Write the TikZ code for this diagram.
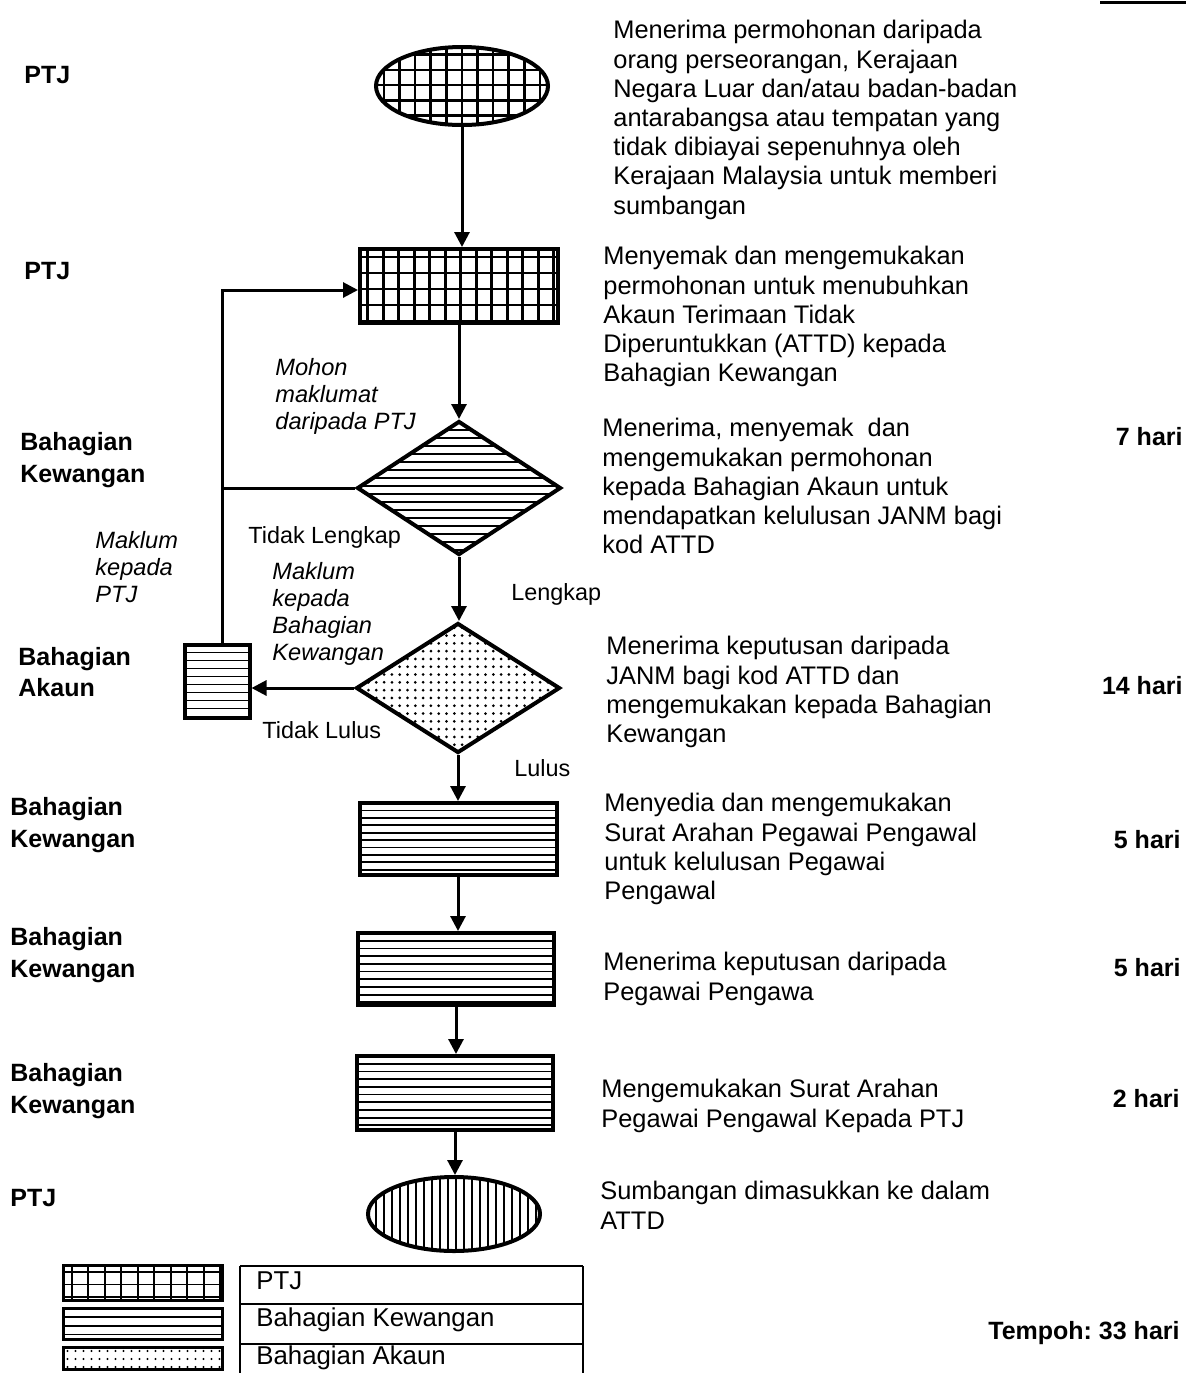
\documentclass[tikz,border=0pt]{standalone}
\usepackage{fontspec}
\setmainfont{Liberation Sans}
\usetikzlibrary{shapes.geometric,arrows.meta}
\frenchspacing

\newcommand\hpat[2]{\foreach \k in {1,...,45}{\draw[line width=#2] ([yshift=-\k*#1]path picture bounding box.north west) -- ([yshift=-\k*#1]path picture bounding box.north east);}}
\newcommand\vpat[2]{\foreach \k in {1,...,45}{\draw[line width=#2] ([xshift=\k*#1]path picture bounding box.north west) -- ([xshift=\k*#1]path picture bounding box.south west);}}
\newcommand\gridpat[3]{\foreach \k in {1,...,30}{\draw[line width=#3] ([xshift=\k*#1-0.5*#1]path picture bounding box.north west) -- ([xshift=\k*#1-0.5*#1]path picture bounding box.south west);\draw[line width=#3] ([yshift=-\k*#2+0.5*#2]path picture bounding box.north west) -- ([yshift=-\k*#2+0.5*#2]path picture bounding box.north east);}}
\newcommand\dotpat[2]{\foreach \i in {1,...,32}{\foreach \j in {1,...,22}{\fill ([xshift=\i*#1-0.5*#1,yshift=-\j*#1+0.5*#1]path picture bounding box.north west) circle[radius=#2];}}}

\begin{document}
\begin{tikzpicture}[x=0.5pt,y=-0.5pt,
  box/.style={draw,line width=2pt,inner sep=0pt,rectangle},
  ell/.style={draw,line width=2pt,inner sep=0pt,ellipse},
  dia/.style={draw,line width=2pt,inner sep=0pt,diamond},
  flow/.style={line width=1.5pt,-{Triangle[length=7.5pt,width=7.5pt]}},
  conn/.style={line width=1.5pt},
  rtext/.style={anchor=north west,align=left,inner sep=0pt,font=\fontsize{12.7}{14.6}\selectfont},
  ltext/.style={anchor=west,align=left,inner sep=0pt,font=\bfseries\fontsize{12.5}{15.8}\selectfont},
  itext/.style={anchor=north west,align=left,inner sep=0pt,font=\itshape\fontsize{11.8}{13.5}\selectfont},
  ntext/.style={anchor=west,inner sep=0pt,font=\fontsize{11.7}{14}\selectfont},
  legtext/.style={anchor=west,inner sep=0pt,font=\fontsize{12.9}{15}\selectfont},
  days/.style={anchor=east,inner sep=0pt,font=\bfseries\fontsize{12.5}{15}\selectfont},
  tline/.style={line width=0.8pt},
]
\useasboundingbox (0,0) rectangle (1186,1373);

% top-right rule
\draw[line width=1.5pt] (1100,2) -- (1186,2);

% flow shapes
\node[ell, minimum width=86pt, minimum height=39pt, path picture={\gridpat{7.8pt}{7.6pt}{1.3pt}}] (e1) at (462,86) {};
\node[box, minimum width=99pt, minimum height=37pt, path picture={\gridpat{7.75pt}{8pt}{1.3pt}}] (r1) at (459,286) {};
\node[dia, minimum width=102pt, minimum height=67pt, path picture={\hpat{4pt}{0.95pt}}] (d1) at (459,488) {};
\node[dia, minimum width=102pt, minimum height=65pt, path picture={\dotpat{3.9pt}{0.75pt}}] (d2) at (458,688) {};
\node[box, minimum width=32.5pt, minimum height=36.5pt, path picture={\hpat{4pt}{0.9pt}}] (sr) at (217,681) {};
\node[box, minimum width=98.5pt, minimum height=36pt, path picture={\hpat{3.7pt}{0.9pt}}] (r2) at (458,839) {};
\node[box, minimum width=98pt, minimum height=36pt, path picture={\hpat{3.85pt}{0.9pt}}] (r3) at (456,969) {};
\node[box, minimum width=98pt, minimum height=37pt, path picture={\hpat{3.85pt}{0.9pt}}] (r4) at (455,1093) {};
\node[ell, minimum width=86pt, minimum height=37pt, path picture={\vpat{4pt}{1.1pt}}] (e2) at (454,1214) {};

% connectors
\draw[flow] (e1.south) -- (e1.south |- r1.north);
\draw[flow] (r1.south) -- (r1.south |- d1.north);
\draw[flow] (d1.south) -- (d1.south |- d2.north);
\draw[flow] (d2.south) -- (d2.south |- r2.north);
\draw[flow] (r2.south) -- (r2.south |- r3.north);
\draw[flow] (r3.south) -- (r3.south |- r4.north);
\draw[flow] (r4.south) -- (r4.south |- e2.north);
\coordinate (jx) at (222,290);
\draw[flow] (sr.north -| jx) -- (jx) -- (jx -| r1.west);
\draw[conn] (d1.west) -- (d1.west -| jx);
\draw[flow] (d2.west) -- (d2.west -| sr.east);

% left role labels
\node[ltext] (L1) at (24,75) {PTJ};
\node[ltext] (L2) at (24,271) {PTJ};
\node[ltext] (L3) at (20,460) {Bahagian\\Kewangan};
\node[ltext] (L4) at (18,672) {Bahagian\\Akaun};
\node[ltext] (L5) at (10,825) {Bahagian\\Kewangan};
\node[ltext] (L6) at (10,955) {Bahagian\\Kewangan};
\node[ltext] (L7) at (10,1091) {Bahagian\\Kewangan};
\node[ltext] (L8) at (10,1198) {PTJ};

% connector labels
\node[itext] (m1) at (275,358) {Mohon\\maklumat\\daripada PTJ};
\node[ntext] (m2) at (248,537) {Tidak Lengkap};
\node[ntext] (m3) at (511,594) {Lengkap};
\node[itext] (m4) at (272,562) {Maklum\\kepada\\Bahagian\\Kewangan};
\node[itext] (m5) at (95,531) {Maklum\\kepada\\PTJ};
\node[ntext] (m6) at (262,730) {Tidak Lulus};
\node[ntext] (m7) at (514,768) {Lulus};

% right descriptions
\node[rtext] (t1) at (613,20) {Menerima permohonan daripada\\orang perseorangan, Kerajaan\\Negara Luar dan/atau badan-badan\\antarabangsa atau tempatan yang\\tidak dibiayai sepenuhnya oleh\\Kerajaan Malaysia untuk memberi\\sumbangan};
\node[rtext] (t2) at (603,246) {Menyemak dan mengemukakan\\permohonan untuk menubuhkan\\Akaun Terimaan Tidak\\Diperuntukkan (ATTD) kepada\\Bahagian Kewangan};
\node[rtext] (t3) at (602,418) {Menerima, menyemak~ dan\\mengemukakan permohonan\\kepada Bahagian Akaun untuk\\mendapatkan kelulusan JANM bagi\\kod ATTD};
\node[rtext] (t4) at (606,636) {Menerima keputusan daripada\\JANM bagi kod ATTD dan\\mengemukakan kepada Bahagian\\Kewangan};
\node[rtext] (t5) at (604,793) {Menyedia dan mengemukakan\\Surat Arahan Pegawai Pengawal\\untuk kelulusan Pegawai\\Pengawal};
\node[rtext] (t6) at (603,952) {Menerima keputusan daripada\\Pegawai Pengawa};
\node[rtext] (t7) at (601,1079) {Mengemukakan Surat Arahan\\Pegawai Pengawal Kepada PTJ};
\node[rtext] (t8) at (600,1181) {Sumbangan dimasukkan ke dalam\\ATTD};

% durations
\node[days] (h1) at (1183,437) {7 hari};
\node[days] (h2) at (1183,686) {14 hari};
\node[days] (h3) at (1181,840) {5 hari};
\node[days] (h4) at (1181,968) {5 hari};
\node[days] (h5) at (1180,1099) {2 hari};
\node[days] (h6) at (1180,1333) {Tempoh: 33 hari};

% legend
\node[box, line width=1.5pt, minimum width=79.5pt, minimum height=17.5pt, path picture={\gridpat{8.25pt}{6.3pt}{0.9pt}}] (k1) at (143,1283) {};
\node[box, line width=1.5pt, minimum width=79.5pt, minimum height=15.5pt, path picture={\hpat{4.3pt}{0.8pt}}] (k2) at (143,1324) {};
\node[box, line width=1.5pt, minimum width=79.5pt, minimum height=11pt, path picture={\dotpat{4pt}{0.6pt}}] (k3) at (143,1358) {};
\draw[tline] (240,1266) -- (583,1266);
\draw[tline] (240,1304) -- (583,1304);
\draw[tline] (240,1344) -- (583,1344);
\draw[tline] (240,1266) -- (240,1373);
\draw[tline] (583,1266) -- (583,1373);
\node[legtext] (g1) at (256,1281) {PTJ};
\node[legtext] (g2) at (256,1320) {Bahagian Kewangan};
\node[legtext] (g3) at (256,1358) {Bahagian Akaun};
\end{tikzpicture}
\end{document}
